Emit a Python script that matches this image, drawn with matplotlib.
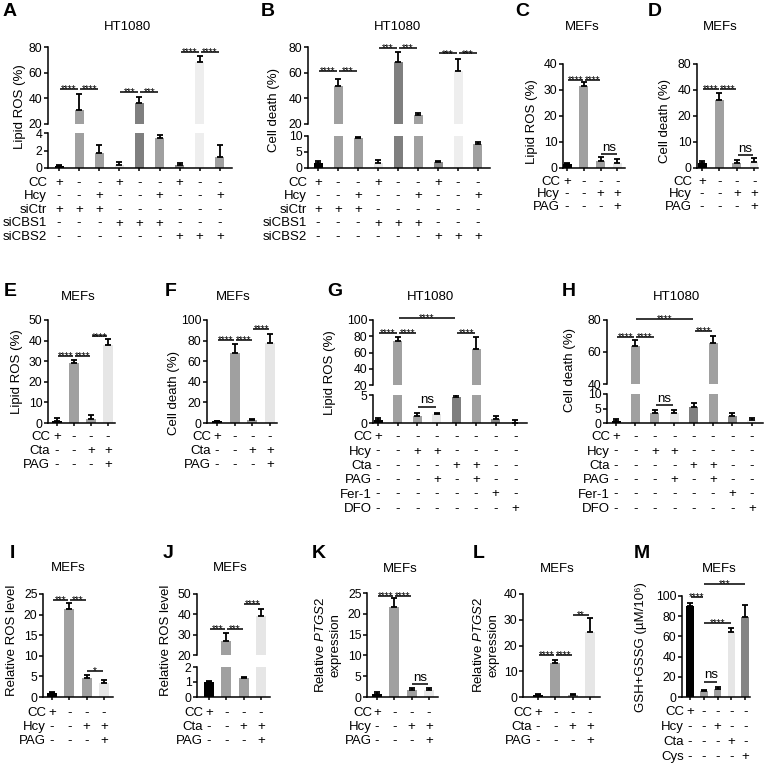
import numpy as np
import matplotlib
matplotlib.use('Agg')
import matplotlib.pyplot as plt
from matplotlib import transforms

plt.rcParams['font.family'] = ['Liberation Sans', 'DejaVu Sans']
plt.rcParams['mathtext.fontset'] = 'custom'
plt.rcParams['mathtext.rm'] = 'Liberation Sans'
plt.rcParams['mathtext.it'] = 'Liberation Sans:italic'

# ---------------- data ----------------
BLK = '#000000'
GRY = '#a0a0a0'
LGT = '#e6e6e6'
DRK = '#7f7f7f'
MID = '#8a8a8a'
XLT = '#eeeeee'

# A / B : HT1080, siRNA
ab_names = ['CC', 'Hcy', 'siCtr', 'siCBS1', 'siCBS2']
ab_marks = ['+--+--+--', '--+--+--+', '+++------', '---+++---', '------+++']
ab_colors = [BLK, GRY, GRY, LGT, DRK, GRY, MID, XLT, GRY]
A_vals = [0.2, 31, 1.75, 0.35, 36.5, 3.4, 0.35, 68, 1.3]
A_err = [0.15, 12.4, 0.9, 0.3, 4.8, 0.4, 0.2, 5.2, 1.3]
A_stars = [(0, 1, 47, '****'), (1, 2, 47, '****'), (3, 4, 45, '***'), (4, 5, 45, '***'),
           (6, 7, 76, '****'), (7, 8, 76, '****')]
B_vals = [1.5, 49.5, 9.3, 1.7, 68.5, 26.8, 1.8, 61.5, 7.4]
B_err = [0.8, 5.3, 0.5, 0.8, 7.4, 1.5, 0.5, 8.9, 0.8]
B_stars = [(0, 1, 61, '****'), (1, 2, 61, '***'), (3, 4, 79, '***'), (4, 5, 79, '***'),
           (6, 7, 75, '***'), (7, 8, 75, '***')]

# 4-bar MEF panels
four_colors = [BLK, GRY, GRY, LGT]
hcy_names = ['CC', 'Hcy', 'PAG']
cta_names = ['CC', 'Cta', 'PAG']
four_marks = ['+---', '--++', '---+']

C_vals = [1.5, 31.5, 2.7, 2.0]
C_err = [0.6, 1.6, 1.4, 1.6]
C_stars = [(0, 1, 34, '****'), (1, 2, 34, '****'), (2, 3, 5.4, 'ns')]

# D: the y axis is printed as 0, 10, 20, 40, 80 on evenly spaced ticks
D_ticklabels = ['0', '10', '20', '40', '80']
D_vals = [4, 52, 3.6, 4.9]
D_err = [1.4, 5.6, 2.6, 3]
D_stars = [(0, 1, 61, '****'), (1, 2, 61, '****'), (2, 3, 10, 'ns')]

E_vals = [1.2, 29.3, 1.8, 37.8]
E_err = [1.2, 1.2, 2.0, 2.8]
E_stars = [(0, 1, 32.5, '****'), (1, 2, 32.5, '****'), (2, 3, 42, '****')]

F_vals = [1.5, 67.7, 2.5, 77.7]
F_err = [0.6, 9, 1.2, 8.3]
F_stars = [(0, 1, 80.5, '****'), (1, 2, 80.5, '****'), (2, 3, 91, '****')]

# G / H : HT1080, inhibitors
gh_names = ['CC', 'Hcy', 'Cta', 'PAG', 'Fer-1', 'DFO']
gh_marks = ['+-------', '--++----', '----++--', '---+-+--', '------+-', '-------+']
gh_colors = [BLK, GRY, GRY, LGT, DRK, GRY, MID, XLT]
G_vals = [0.55, 74, 1.25, 1.6, 4.6, 64, 0.7, 0.05]
G_err = [0.3, 5.2, 0.6, 0.2, 0.35, 15, 0.55, 0.45]
G_stars = [(0, 1, 84, '****'), (1, 2, 84, '****'), (1, 4, 102, '****'), (4, 5, 84, '****'),
           (2, 3, 2.9, 'ns')]
H_vals = [0.8, 63.7, 3.6, 3.6, 5.4, 65.6, 2.4, 1.2]
H_err = [0.6, 3.8, 0.9, 0.8, 1.4, 4.4, 0.9, 0.5]
H_stars = [(0, 1, 69.5, '****'), (1, 2, 69.5, '****'), (1, 4, 80.6, '****'), (4, 5, 73, '****'),
           (2, 3, 6.2, 'ns')]

I_vals = [0.9, 21.3, 4.6, 3.4]
I_err = [0.3, 1.4, 0.8, 0.7]
I_stars = [(0, 1, 23.5, '***'), (1, 2, 23.5, '***'), (2, 3, 6.3, '*')]

J_vals = [1.0, 26.9, 1.25, 39.2]
J_err = [0.05, 3.9, 0.07, 3.4]
J_stars = [(0, 1, 32.7, '***'), (1, 2, 32.7, '***'), (2, 3, 45, '****')]

K_vals = [0.8, 21.6, 1.7, 1.6]
K_err = [0.3, 2.1, 0.5, 0.5]
K_stars = [(0, 1, 24.3, '****'), (1, 2, 24.3, '****'), (2, 3, 3.05, 'ns')]

L_vals = [0.8, 13.3, 0.7, 25.4]
L_err = [0.5, 1.1, 0.3, 5.2]
L_stars = [(0, 1, 16.3, '****'), (1, 2, 16.3, '****'), (2, 3, 31.8, '**')]

m_names = ['CC', 'Hcy', 'Cta', 'Cys']
m_marks = ['+----', '--+--', '---+-', '----+']
m_colors = [BLK, GRY, GRY, LGT, '#858585']
M_vals = [90, 6.2, 7.8, 64.7, 79.5]
M_err = [3.5, 0.8, 2.3, 4, 11.5]
M_stars = [(0, 1, 98.7, '****'), (1, 2, 15, 'ns'), (1, 3, 73, '****'), (1, 4, 111.6, '***')]

PTGS2_LABEL = 'Relative $\\it{PTGS2}$\nexpression'

# ---------------- layout helpers (pixels) ----------------
W, H = 765, 767
fig = plt.figure(figsize=(W / 100, H / 100), dpi=100)
fig.patch.set_facecolor('white')

TICK_FS = 8.8
TABLE_FS = 9.5
LABEL_FS = 9.5
STAR_FS = 7.3


def fx(px):
    return px / W


def fy(py):
    return 1 - py / H


def panel(letter, title, ylabel, vals, err, colors, names, marks, stars,
          x0, dx, left, right, segs, rows_y, name_x,
          title_xy, letter_xy, ylabel_xy, bw=9.0, yticklabels=None):
    n = len(vals)
    xs = np.arange(n)
    axes = []
    for k, (lo, hi, ticks, pb, pt) in enumerate(segs):
        ax = fig.add_axes([fx(left), fy(pb), fx(right) - fx(left), (pb - pt) / H])
        ax.bar(xs, vals, width=bw / dx, color=colors, edgecolor='none', zorder=2)
        ax.errorbar(xs, vals, yerr=[np.zeros(n), err], fmt='none', ecolor='black',
                    elinewidth=1.3, capsize=2.4, capthick=1.3, zorder=3)
        ax.set_xlim((left - x0) / dx, (right - x0) / dx)
        ax.set_ylim(lo, hi)
        ax.set_yticks(ticks)
        if yticklabels is not None:
            ax.set_yticklabels(yticklabels)
        for s in ['top', 'right']:
            ax.spines[s].set_visible(False)
        ax.spines['left'].set_linewidth(1.1)
        ax.tick_params(axis='y', length=3, width=1.1, pad=1, labelsize=TICK_FS)
        if k == 0:
            ax.spines['bottom'].set_linewidth(1.1)
            ax.set_xticks(xs)
            ax.set_xticklabels([])
            ax.tick_params(axis='x', length=2.5, width=1.1)
        else:
            ax.spines['bottom'].set_visible(False)
            ax.set_xticks([])
        ax.patch.set_alpha(0)
        axes.append(ax)

    # significance bars
    for i, j, y, s in stars:
        ax = axes[0]
        for (lo, hi, _, _, _), a in zip(segs, axes):
            if lo <= y:
                ax = a
        ax.plot([i + 0.05, j - 0.05], [y, y], color='black', lw=1.1, clip_on=False,
                solid_capstyle='butt')
        if s == 'ns':
            ax.annotate(s, xy=((i + j) / 2, y), xytext=(0, 0.3), textcoords='offset points',
                        ha='center', va='bottom', fontsize=9.5, annotation_clip=False)
        else:
            ax.annotate(s, xy=((i + j) / 2, y), xytext=(0, -2.3), textcoords='offset points',
                        ha='center', va='baseline', fontsize=STAR_FS, annotation_clip=False)

    # treatment table under the axis
    tr = transforms.blended_transform_factory(axes[0].transData, fig.transFigure)
    for name, row, py in zip(names, marks, rows_y):
        fig.text(fx(name_x), fy(py), name, ha='right', va='center', fontsize=TABLE_FS)
        for x, m in zip(xs, row):
            axes[0].text(x, fy(py), m, transform=tr, ha='center', va='center',
                         fontsize=TABLE_FS, clip_on=False)

    fig.text(fx(title_xy[0]), fy(title_xy[1]), title, ha='center', va='center', fontsize=9.5)
    fig.text(fx(letter_xy[0]), fy(letter_xy[1]), letter, ha='left', va='center',
             fontsize=14, fontweight='bold')
    fig.text(fx(ylabel_xy[0]), fy(ylabel_xy[1]), ylabel, rotation=90, ha='center',
             va='center', fontsize=LABEL_FS, multialignment='center', linespacing=1.3)


rows_top = [183, 196.5, 210, 223.5, 237]
rows_cd = [182, 194.5, 207]
rows_ef = [437, 451, 465]
rows_gh = [437, 451.5, 466, 480, 494.5, 509]
rows_ij = [713, 727, 741]
rows_m = [712, 727, 742, 757]

panel('A', 'HT1080', 'Lipid ROS (%)', A_vals, A_err, ab_colors, ab_names, ab_marks, A_stars,
      59, 20.1, 48, 232, [(0, 4, [0, 2, 4], 168, 133), (20, 80, [20, 40, 60, 80], 124, 47)],
      rows_top, 47, (128, 27), (3, 11), (20, 107))
panel('B', 'HT1080', 'Cell death (%)', B_vals, B_err, ab_colors, ab_names, ab_marks, B_stars,
      318, 20, 308, 490, [(0, 10, [0, 5, 10], 168, 136), (20, 80, [20, 40, 60, 80], 124, 47)],
      rows_top, 307, (397, 27), (261, 11), (274, 110))
panel('C', 'MEFs', 'Lipid ROS (%)', C_vals, C_err, four_colors, hcy_names, four_marks, C_stars,
      567, 16.8, 563, 625, [(0, 40, [0, 10, 20, 30, 40], 168, 64)],
      rows_cd, 560, (582, 27), (515, 11), (532, 122), bw=9)
panel('D', 'MEFs', 'Cell death (%)', D_vals, D_err, four_colors, hcy_names, four_marks, D_stars,
      702, 17.4, 697, 758, [(0, 80, [0, 20, 40, 60, 80], 168, 64)],
      rows_cd, 692, (720, 27), (648, 11), (665, 121), bw=9, yticklabels=D_ticklabels)
panel('E', 'MEFs', 'Lipid ROS (%)', E_vals, E_err, four_colors, cta_names, four_marks, E_stars,
      57, 17, 48, 115, [(0, 50, [0, 10, 20, 30, 40, 50], 423, 320)],
      rows_ef, 50, (78, 297), (4, 292), (17, 372), bw=10)
panel('F', 'MEFs', 'Cell death (%)', F_vals, F_err, four_colors, cta_names, four_marks, F_stars,
      217, 17.7, 207, 277, [(0, 100, [0, 20, 40, 60, 80, 100], 423, 320)],
      rows_ef, 211, (233, 297), (165, 292), (174, 393), bw=10)
panel('G', 'HT1080', 'Lipid ROS (%)', G_vals, G_err, gh_colors, gh_names, gh_marks, G_stars,
      378, 19.6, 373, 527, [(0, 5, [0, 5], 423, 395), (20, 100, [20, 40, 60, 80, 100], 385, 320)],
      rows_gh, 372, (430, 297), (327, 292), (330, 373))
panel('H', 'HT1080', 'Cell death (%)', H_vals, H_err, gh_colors, gh_names, gh_marks, H_stars,
      616, 19.4, 607, 763, [(0, 10, [0, 5, 10], 423, 394), (40, 80, [40, 60, 80], 384, 320)],
      rows_gh, 610, (677, 297), (562, 292), (570, 370))
panel('I', 'MEFs', 'Relative ROS level', I_vals, I_err, four_colors, hcy_names, four_marks, I_stars,
      52, 17.3, 43, 113, [(0, 25, [0, 5, 10, 15, 20, 25], 697, 594)],
      rows_ij, 46, (68, 568), (10, 553), (12, 640), bw=10)
panel('J', 'MEFs', 'Relative ROS level', J_vals, J_err, four_colors, cta_names, four_marks, J_stars,
      209, 17.3, 197, 270, [(0, 2, [0, 1, 2], 697, 667), (20, 50, [20, 30, 40, 50], 655, 594)],
      rows_ij, 203, (230, 568), (163, 553), (166, 640), bw=10)
panel('K', 'MEFs', PTGS2_LABEL, K_vals, K_err, four_colors, hcy_names, four_marks, K_stars,
      377, 17.3, 367, 438, [(0, 25, [0, 5, 10, 15, 20, 25], 697, 593)],
      rows_ij, 372, (400, 569), (312, 553), (328, 645), bw=10)
panel('L', 'MEFs', PTGS2_LABEL, L_vals, L_err, four_colors, cta_names, four_marks, L_stars,
      538, 17.3, 523, 600, [(0, 40, [0, 10, 20, 30, 40], 697, 594)],
      rows_ij, 532, (557, 569), (473, 553), (486, 645), bw=10)
panel('M', 'MEFs', 'GSH+GSSG (µM/10⁶)', M_vals, M_err, m_colors, m_names, m_marks, M_stars,
      690, 13.8, 682, 750, [(0, 100, [0, 20, 40, 60, 80, 100], 697, 596)],
      rows_m, 684, (719, 569), (634, 553), (641, 647), bw=7.5)

fig.savefig('out.png', dpi=100)
